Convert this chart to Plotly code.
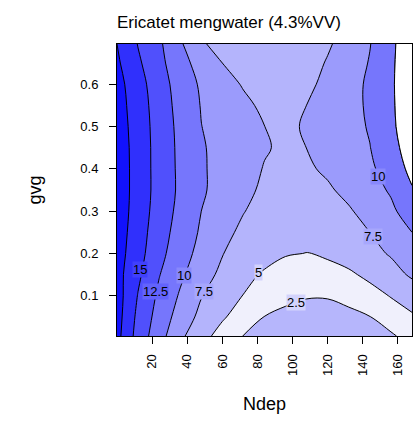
import plotly.graph_objects as go

# Grid of Ndep (x) and gvg (y) with the modelled water amount
ndep = [0, 12, 24, 36, 48, 60, 72, 84, 96, 108, 120, 132, 144, 156, 168]
gvg = [0.005, 0.05, 0.10, 0.15, 0.20, 0.25, 0.30, 0.35, 0.40, 0.45,
       0.50, 0.55, 0.60, 0.65, 0.695]

water = [
    [18.3, 14.0, 11.0, 8.0, 5.87, 4.07, 2.45, 1.66, 1.12, 0.84, 0.82, 1.04, 1.51, 2.21, 3.3],
    [18.5, 14.38, 11.52, 8.96, 6.85, 5.29, 3.84, 2.45, 1.91, 1.63, 1.63, 1.91, 2.45, 3.54, 4.64],
    [18.6, 14.88, 12.02, 9.73, 7.59, 6.23, 4.93, 3.8, 3.08, 2.65, 2.65, 3.18, 3.98, 5.14, 6.3],
    [18.4, 15.45, 12.61, 10.45, 8.52, 6.96, 5.78, 4.67, 3.98, 3.7, 3.88, 4.56, 5.63, 6.72, 7.8],
    [18.6, 15.92, 13.22, 11.07, 9.24, 7.57, 6.75, 5.97, 5.17, 4.96, 5.46, 6.18, 6.89, 7.69, 8.9],
    [18.8, 16.14, 13.6, 11.48, 9.7, 8.27, 6.93, 5.99, 5.5, 5.42, 5.74, 6.43, 7.5, 8.78, 10.0],
    [19.0, 16.32, 13.92, 11.82, 10.0, 8.8, 7.6, 6.58, 6.06, 6.05, 6.45, 7.25, 8.38, 9.54, 11.2],
    [19.1, 16.41, 14.1, 12.05, 10.32, 9.13, 8.07, 7.1, 6.63, 6.69, 7.19, 8.12, 9.13, 10.26, 12.3],
    [19.1, 16.41, 14.08, 12.01, 10.29, 9.23, 8.3, 7.39, 7.0, 7.18, 7.87, 8.74, 9.62, 10.98, 13.2],
    [19.0, 16.41, 14.06, 11.96, 10.22, 9.29, 8.48, 7.67, 7.15, 7.51, 8.32, 9.14, 9.95, 11.44, 14.0],
    [18.8, 16.34, 13.98, 11.86, 10.03, 9.19, 8.35, 7.51, 7.12, 7.7, 8.5, 9.29, 10.17, 11.79, 14.7],
    [18.6, 16.2, 13.83, 11.67, 9.89, 8.97, 8.05, 7.01, 6.62, 7.51, 8.4, 9.29, 10.33, 11.9, 15.0],
    [18.4, 15.95, 13.6, 11.45, 9.66, 8.5, 7.29, 6.29, 6.15, 6.95, 8.15, 9.19, 10.37, 12.0, 15.0],
    [17.9, 15.38, 13.2, 10.9, 9.04, 7.5, 6.41, 5.87, 5.88, 6.5, 7.7, 8.89, 10.13, 11.89, 15.0],
    [17.5, 14.9, 12.93, 10.34, 7.81, 6.6, 5.93, 5.62, 5.7, 6.22, 7.2, 8.54, 9.92, 11.77, 14.9],
]

levels = [2.5, 5.0, 7.5, 10.0, 12.5, 15.0, 17.5]
# one fill colour per band: below 2.5, 2.5-5, ..., above 17.5
band_colors = ["#b6b6fc", "#f0f0fc", "#b4b4fc", "#9b9bfc",
               "#7676fc", "#5050fc", "#3030fc", "#1212fc"]

x_ticks = [20, 40, 60, 80, 100, 120, 140, 160]
y_ticks = [0.1, 0.2, 0.3, 0.4, 0.5, 0.6]

# contour labels: level and where it is written
label_levels = [15, 12.5, 10, 7.5, 5, 2.5, 10, 7.5]
label_x = [13.3, 21.9, 37.9, 49.3, 80.7, 101.9, 148.6, 145.7]
label_y = [0.161, 0.109, 0.149, 0.109, 0.154, 0.083, 0.381, 0.239]

# right-hand high region (above 12.5) is left unfilled
right_start = 11
right_level = 12.5

FONT = "Liberation Sans, Arial, sans-serif"
step = levels[1] - levels[0]
n = len(band_colors) - 1
colorscale = [[i / n, c] for i, c in enumerate(band_colors)]

fig = go.Figure()
fig.add_trace(go.Contour(
    x=ndep, y=gvg, z=water,
    autocontour=False,
    contours=dict(start=levels[0], end=levels[-1], size=step,
                  coloring="fill", showlabels=False),
    colorscale=colorscale, showscale=False,
    line=dict(color="black", width=1, smoothing=1.0),
    hoverinfo="skip",
))

# overlay on the right-hand columns: the constraint keeps values below the
# level and shades (white) the part above it
fig.add_trace(go.Contour(
    x=ndep[right_start:], y=gvg,
    z=[row[right_start:] for row in water],
    contours=dict(type="constraint", operation="<", value=right_level),
    fillcolor="white",
    line=dict(color="black", width=1, smoothing=1.0),
    showscale=False, hoverinfo="skip",
))


def mix(c1, c2):
    a = [int(c1[i:i + 2], 16) for i in (1, 3, 5)]
    b = [int(c2[i:i + 2], 16) for i in (1, 3, 5)]
    return "rgb({},{},{})".format(*[(p + q) // 2 for p, q in zip(a, b)])


for lv, lx, ly in zip(label_levels, label_x, label_y):
    k = levels.index(lv)
    fig.add_annotation(
        x=lx, y=ly, xref="x", yref="y", text=f"{lv:g}", showarrow=False,
        font=dict(family=FONT, size=13, color="black"),
        bgcolor=mix(band_colors[k], band_colors[k + 1]), borderpad=0,
    )

fig.update_layout(
    width=417, height=422,
    margin=dict(l=117, r=5, t=44, b=86),
    paper_bgcolor="white", plot_bgcolor="white",
    font=dict(family=FONT, color="black"),
    showlegend=False,
    title=dict(text="Ericatet mengwater (4.3%VV)", x=0, xref="paper",
               xanchor="left", y=1 - 22 / 422, yanchor="middle",
               font=dict(family=FONT, size=17, color="black")),
)
fig.update_xaxes(
    range=[ndep[0], ndep[-1]], tickvals=x_ticks, tickangle=-90,
    ticks="outside", ticklen=7, tickcolor="black", tickwidth=1,
    showline=True, linecolor="black", linewidth=1, mirror=True,
    showgrid=False, zeroline=False, ticklabelstandoff=5,
    tickfont=dict(family=FONT, size=13, color="black"),
    title=dict(text="Ndep", standoff=22, font=dict(family=FONT, size=18)),
)
fig.update_yaxes(
    range=[gvg[0], gvg[-1]], tickvals=y_ticks,
    ticktext=[f"{v:.1f}" for v in y_ticks],
    ticks="outside", ticklen=7, tickcolor="black", tickwidth=1,
    showline=True, linecolor="black", linewidth=1, mirror=True,
    showgrid=False, zeroline=False, ticklabelstandoff=8,
    tickfont=dict(family=FONT, size=13, color="black"),
    title=dict(text="gvg", standoff=34, font=dict(family=FONT, size=18)),
)

fig.write_html("out.html")
